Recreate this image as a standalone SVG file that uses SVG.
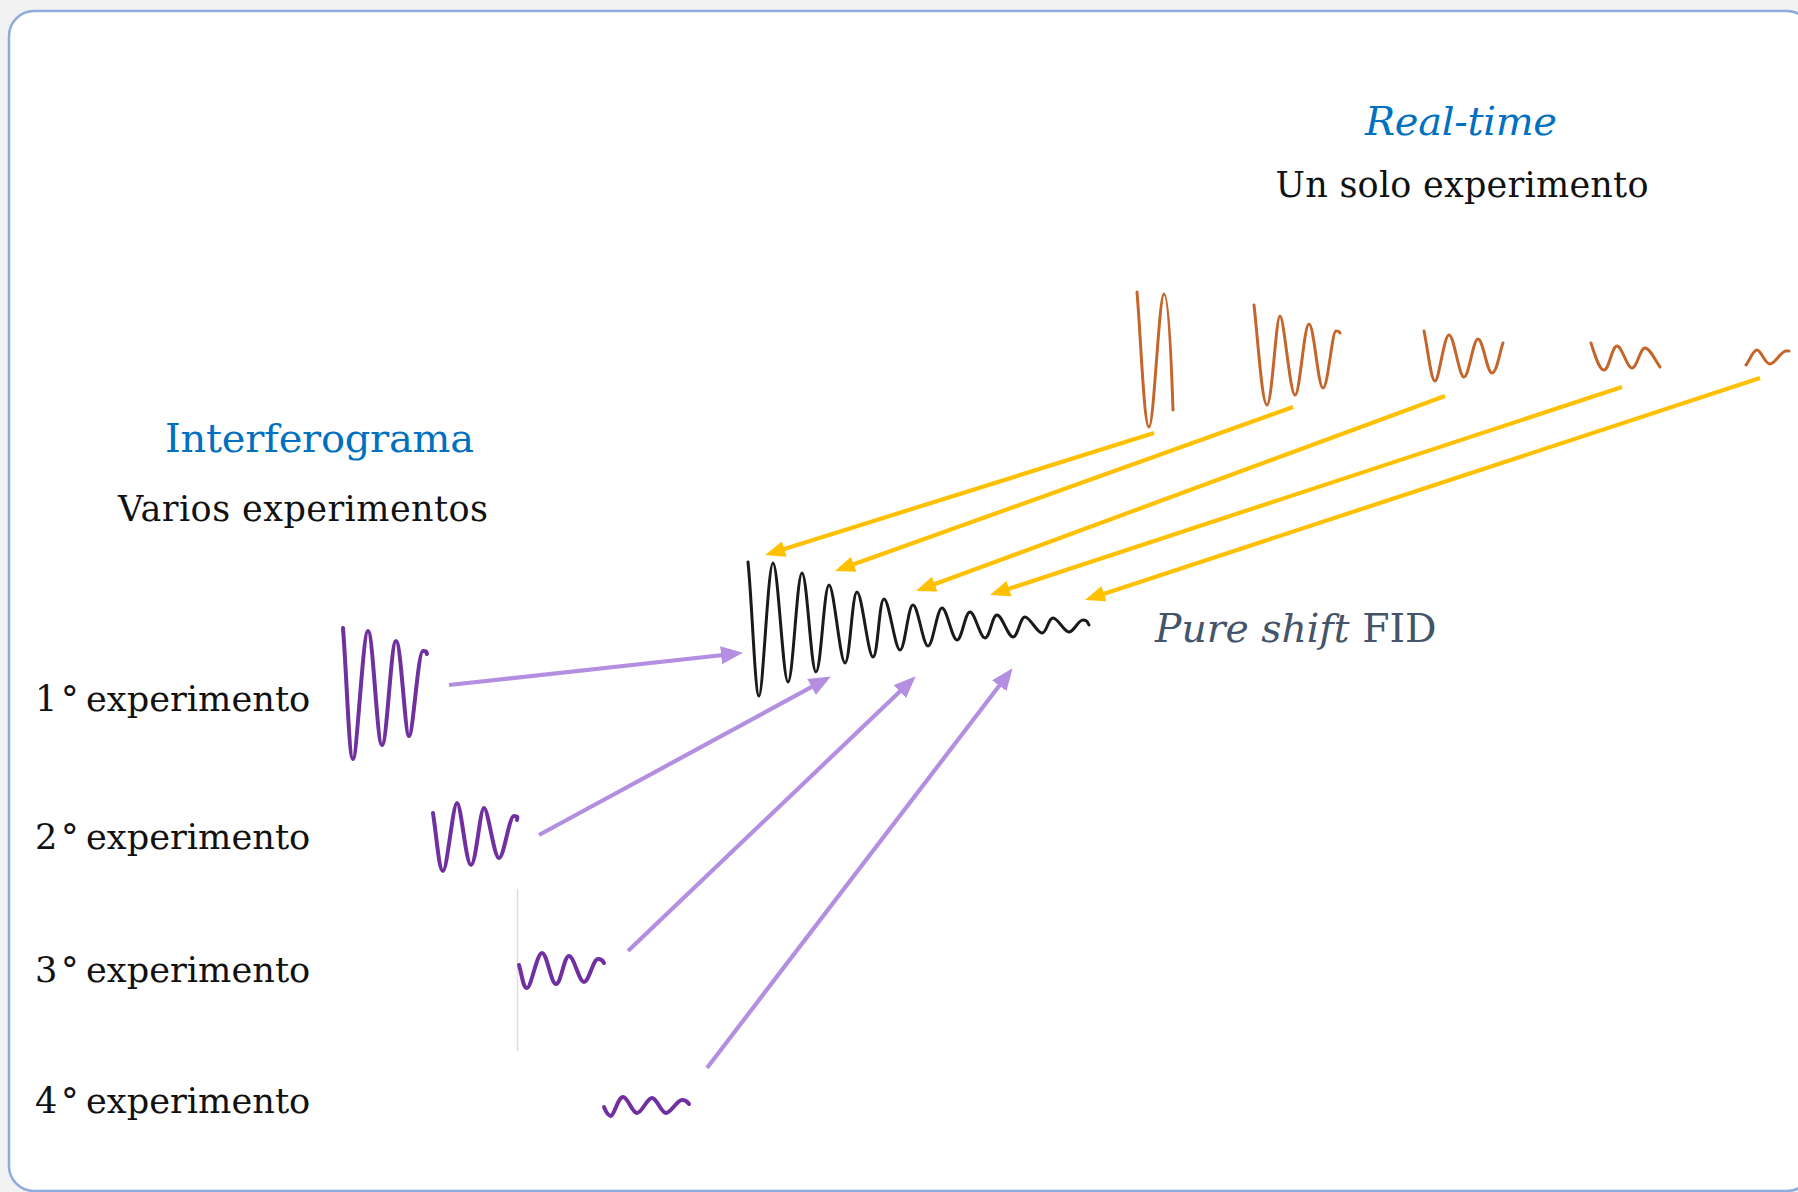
<svg xmlns="http://www.w3.org/2000/svg" width="1798" height="1192" viewBox="0 0 1798 1192">
<style>
.t{font-family:"DejaVu Serif","Liberation Serif",serif;}
.blue{fill:#0070c0;}
.blk{fill:#111111;}
.slate{fill:#44546a;}
.fid{fill:none;stroke:#1a1a1a;stroke-width:3;stroke-linejoin:round;stroke-linecap:round;}
.ow{fill:none;stroke:#c4662c;stroke-width:3;stroke-linejoin:round;stroke-linecap:round;}
.pw{fill:none;stroke:#7030a0;stroke-width:4;stroke-linejoin:round;stroke-linecap:round;}
.ya{fill:none;stroke:#ffc000;stroke-width:4.2;marker-end:url(#ay);}
.pa{fill:none;stroke:#b48ee0;stroke-width:4.2;marker-end:url(#ap);}
</style>
<defs>
<marker id="ay" viewBox="0 0 20 16" refX="15" refY="8" markerWidth="20" markerHeight="16" markerUnits="userSpaceOnUse" orient="auto"><path d="M0,0 L20,8 L0,16 z" fill="#ffc000"/></marker>
<marker id="ap" viewBox="0 0 22 18" refX="16" refY="9" markerWidth="22" markerHeight="18" markerUnits="userSpaceOnUse" orient="auto"><path d="M0,0 L22,9 L0,18 z" fill="#b48ee0"/></marker>
</defs>
<rect x="0" y="0" width="1798" height="1192" fill="#f2f2f2"/>
<rect id="frame" x="9" y="11" width="1803" height="1180" rx="25" ry="25" fill="#ffffff" stroke="#8faadc" stroke-width="2.5"/>

<g id="realtime-title">
<text class="t blue" x="1461" y="135" font-size="40" font-style="italic" text-anchor="middle" textLength="192">Real-time</text>
<text class="t blk" x="1462" y="197" font-size="35" text-anchor="middle" textLength="373">Un solo experimento</text>
</g>

<g id="interferograma-title">
<text class="t blue" x="165" y="452" font-size="40" textLength="309">Interferograma</text>
<text class="t blk" x="118" y="521" font-size="35" textLength="370">Varios experimentos</text>
</g>

<g id="label-1"><text class="t blk" y="711" font-size="35.2"><tspan x="35">1</tspan><tspan x="61">°</tspan><tspan x="86">experimento</tspan></text></g>
<g id="label-2"><text class="t blk" y="849" font-size="35.2"><tspan x="35">2</tspan><tspan x="61">°</tspan><tspan x="86">experimento</tspan></text></g>
<g id="label-3"><text class="t blk" y="982" font-size="35.2"><tspan x="35">3</tspan><tspan x="61">°</tspan><tspan x="86">experimento</tspan></text></g>
<g id="label-4"><text class="t blk" y="1113" font-size="35.2"><tspan x="35">4</tspan><tspan x="61">°</tspan><tspan x="86">experimento</tspan></text></g>

<g id="pure-shift-fid">
<path class="fid" d="M748,562 C752,600 755,696 759,696 S768,563 773,563 S783,682 788,682 S797,573 802,573 S811,672 816,672 S824,585 829,585 S840,663 845,663 S852,592 857,592 S868,657 873,657 S879,599 884,599 S895,650 900,650 S908,605 913,605 S923,646 928,646 S937,608 942,608 S952,640 957,640 S965,612 970,612 S980,638 985,638 S992,615 997,615 S1008,637 1013,637 S1020,617 1025,617 S1037,633 1042,633 S1048,618 1053,618 S1064,632 1069,632 S1078,620 1083,620 S1087,622 1089,625"/>
<text class="t slate" x="1155" y="642" font-size="39.3"><tspan font-style="italic">Pure shift</tspan> FID</text>
</g>

<g id="rt-wave-1"><path class="ow" d="M1137,292 C1141,340 1144,427 1149,427 S1159,294 1164,294 S1172,380 1173,410"/></g>
<g id="rt-wave-2"><path class="ow" d="M1254,305 C1258,340 1262,405 1267,405 S1276,316 1280,316 S1290,395 1295,395 S1304,324 1309,324 S1318,388 1323,388 S1332,331 1336,331 S1339,332 1340,333"/></g>
<g id="rt-wave-3"><path class="ow" d="M1424,331 C1428,350 1431,381 1435,381 S1444,335 1449,335 S1459,377 1464,377 S1473,339 1478,339 S1487,373 1492,373 S1500,350 1503,343"/></g>
<g id="rt-wave-4"><path class="ow" d="M1591,343 C1595,355 1599,370 1604,370 S1612,346 1617,346 S1627,368 1632,368 S1640,348 1645,348 S1656,362 1660,367"/></g>
<g id="rt-wave-5"><path class="ow" d="M1746,365 C1750,360 1753,350 1757,350 S1765,364 1770,364 S1781,351 1786,351 L1789,351"/></g>

<g id="exp-wave-1"><path class="pw" d="M343,628 C347,680 349,759 353,759 S363,631 368,631 S377,745 382,745 S391,641 396,641 S405,736 409,736 S418,651 423,651 S426,652 427,654"/></g>
<g id="exp-wave-2"><path class="pw" d="M433,813 C437,840 439,871 443,871 S453,803 457,803 S466,865 471,865 S480,808 484,808 S494,858 499,858 S509,816 514,816 S517,818 517,820"/></g>
<g id="exp-wave-3">
<line x1="517.5" y1="889" x2="517.5" y2="1051" stroke="#ead4f2" stroke-width="1.5"/>
<path class="pw" d="M519,965 C522,975 523,988 527,988 S537,953 542,953 S551,984 556,984 S564,956 569,956 S579,982 584,982 S593,959 598,959 S603,962 604,963"/>
</g>
<g id="exp-wave-4"><path class="pw" d="M604,1107 C606,1112 608,1116 611,1116 S618,1097 623,1097 S632,1113 637,1113 S647,1098 652,1098 S661,1113 666,1113 S677,1100 682,1100 S688,1103 689,1104"/></g>

<g id="connectors">
<line class="ya" x1="1154" y1="433" x2="770" y2="553.5"/>
<line class="ya" x1="1293" y1="407" x2="839.7" y2="569.3"/>
<line class="ya" x1="1445" y1="396" x2="920.7" y2="589.3"/>
<line class="ya" x1="1622" y1="387" x2="994.8" y2="593.4"/>
<line class="ya" x1="1760" y1="378" x2="1089.8" y2="598.4"/>
<line class="pa" x1="449" y1="685" x2="737" y2="653.5"/>
<line class="pa" x1="539" y1="835" x2="825.6" y2="679.4"/>
<line class="pa" x1="628" y1="951" x2="911.4" y2="680.5"/>
<line class="pa" x1="707" y1="1068" x2="1009" y2="673"/>
</g>
</svg>
